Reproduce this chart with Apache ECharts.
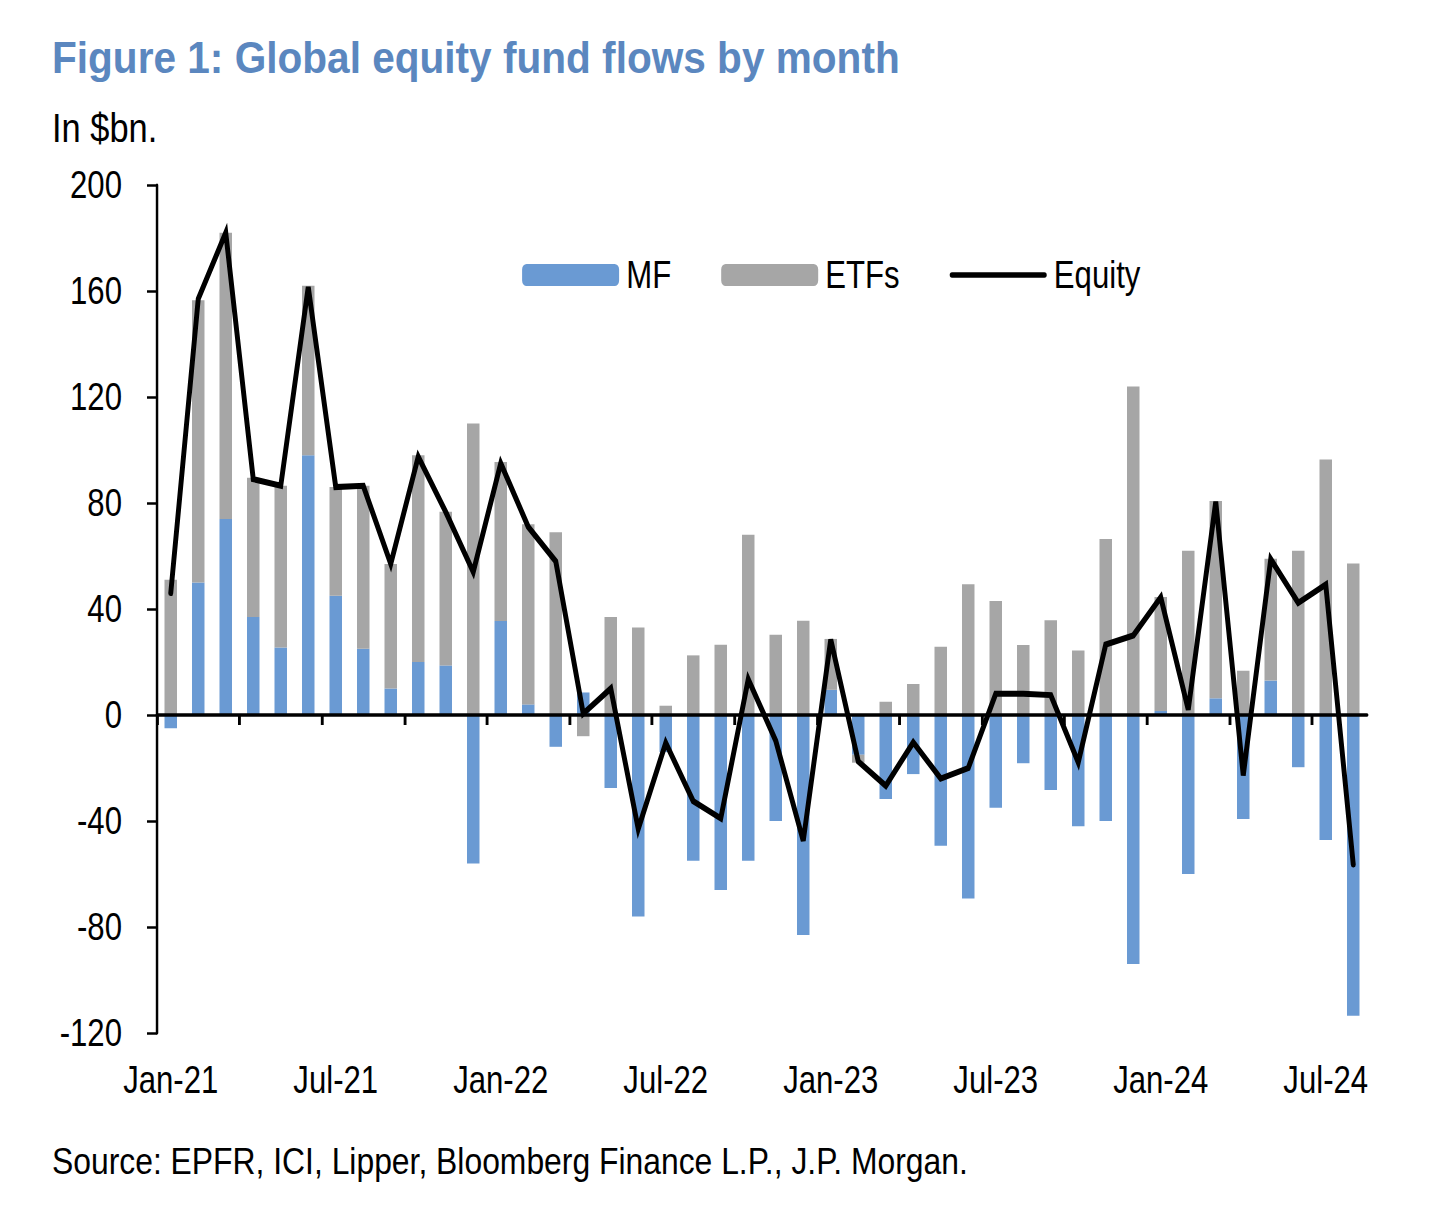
<!DOCTYPE html>
<html>
<head>
<meta charset="utf-8">
<script src="https://cdn.jsdelivr.net/npm/echarts@6/dist/echarts.min.js"></script>
<style>
html,body{margin:0;padding:0;background:#fff;overflow:hidden;width:1456px;height:1213px;}
#chart{height:1213px;transform-origin:0 0;}
</style>
</head>
<body>
<div id="chart"></div>
<script>
var months = ['Jan-21','Feb-21','Mar-21','Apr-21','May-21','Jun-21','Jul-21','Aug-21','Sep-21','Oct-21','Nov-21','Dec-21',
  'Jan-22','Feb-22','Mar-22','Apr-22','May-22','Jun-22','Jul-22','Aug-22','Sep-22','Oct-22','Nov-22','Dec-22',
  'Jan-23','Feb-23','Mar-23','Apr-23','May-23','Jun-23','Jul-23','Aug-23','Sep-23','Oct-23','Nov-23','Dec-23',
  'Jan-24','Feb-24','Mar-24','Apr-24','May-24','Jun-24','Jul-24','Aug-24'];

var mfFlows = [-5, 50, 74, 37, 25.5, 98, 45, 25, 10, 20, 18.7, -56,
  35.5, 4, -12, 8.5, -27.5, -76, -14, -55, -66, -55, -40, -83,
  9.5, -15, -31.7, -22.3, -49.3, -69.2, -35, -18.2, -28.3, -42, -40, -94,
  1.5, -60, 6.3, -39.2, 13, -19.7, -47.2, -113.5];

var etfFlows = [51, 106.5, 108, 52.5, 61, 64, 41, 61.5, 47, 78, 58, 110,
  60, 68, 69, -8, 37, 33, 3.5, 22.5, 26.5, 68, 30.3, 35.6,
  19.2, -3, 5, 11.7, 25.8, 49.3, 43, 26.4, 35.8, 24.3, 66.4, 124,
  43, 62, 74.5, 16.7, 46, 62, 96.4, 57.2];

var equityFlows = [46, 157, 182, 89, 86.5, 161.5, 86, 86.5, 57, 97.5, 76.6, 54,
  95, 71, 58, 0.5, 10, -43, -10.5, -32.5, -39, 13.5, -9.7, -47.5,
  28.5, -17.5, -26.7, -10.3, -24, -20, 8, 8, 7.5, -17.9, 26.6, 30,
  44.4, 2, 80.5, -22.8, 58.8, 42.3, 49.2, -56.4];

var yMin = -120, yMax = 200, yStep = 40;

// month boundaries (one more than months) for the zero-line axis with quarterly ticks
var boundaries = months.concat(['end']);

// Condensed look: render with Liberation Sans and squeeze horizontally (Arial Narrow ~ 0.82 x Arial)
var K = 0.82;
var W = 1456 / K;
var FONT = "'Liberation Sans', Arial, sans-serif";

var el = document.getElementById('chart');
el.style.width = W + 'px';
el.style.transform = 'scaleX(' + K + ')';

var chart = echarts.init(el, null, {renderer: 'svg', width: W, height: 1213});

chart.setOption({
  animation: false,
  backgroundColor: '#ffffff',
  textStyle: {fontFamily: FONT},
  graphic: [
    {type: 'text', x: 52 / K, y: 57, scaleX: 1.1, style: {text: 'Figure 1: Global equity fund flows by month', font: 'bold 45px ' + FONT, fill: '#5b87bf', verticalAlign: 'middle'}},
    {type: 'text', x: 52 / K, y: 128, scaleX: 1.05, style: {text: 'In $bn.', font: '40px ' + FONT, fill: '#000', verticalAlign: 'middle'}},
    {type: 'text', x: 52 / K, y: 1161, scaleX: 1.05, style: {text: 'Source: EPFR, ICI, Lipper, Bloomberg Finance L.P., J.P. Morgan.', font: '37px ' + FONT, fill: '#000', verticalAlign: 'middle'}}
  ],
  legend: {
    left: 518 / K,
    top: 251,
    itemWidth: 97 / K,
    itemHeight: 22,
    itemGap: 50 / K,
    symbolKeepAspect: true,
    textStyle: {fontSize: 38, color: '#000', fontFamily: FONT, padding: [0, 0, 0, 3 / K]},
    data: [
      {name: 'MF'},
      {name: 'ETFs'},
      {name: 'Equity', icon: 'path://M5,0 H210 A5,5 0 0 1 210,10 H5 A5,5 0 0 1 5,0 Z', itemStyle: {color: '#000'}}
    ]
  },
  grid: {left: 157 / K, right: W - 1367 / K, top: 185, bottom: 180, containLabel: false},
  xAxis: [
    {
      type: 'category',
      data: months,
      position: 'bottom',
      axisLine: {show: false, onZero: false},
      axisTick: {show: false},
      axisLabel: {show: true, interval: 5, fontSize: 38, color: '#000', margin: 28, fontFamily: FONT},
      splitLine: {show: false}
    },
    {
      type: 'category',
      data: boundaries,
      boundaryGap: false,
      position: 'bottom',
      z: 3,
      axisLine: {show: true, onZero: true, lineStyle: {color: '#000', width: 3.5}},
      axisTick: {show: true, interval: 2, length: 10, lineStyle: {color: '#000', width: 3.5}},
      axisLabel: {show: false},
      splitLine: {show: false}
    }
  ],
  yAxis: {
    type: 'value',
    min: yMin,
    max: yMax,
    interval: yStep,
    axisLine: {show: true, onZero: false, lineStyle: {color: '#000', width: 3}},
    axisTick: {show: true, length: 10 / K, lineStyle: {color: '#000', width: 2.5}},
    axisLabel: {fontSize: 38, color: '#000', margin: 35 / K, fontFamily: FONT},
    splitLine: {show: false}
  },
  series: [
    {
      name: 'MF',
      type: 'bar',
      stack: 'flows',
      xAxisIndex: 0,
      barWidth: 12.5 / K,
      itemStyle: {color: '#6a9ad3'},
      data: mfFlows
    },
    {
      name: 'ETFs',
      type: 'bar',
      stack: 'flows',
      xAxisIndex: 0,
      barWidth: 12.5 / K,
      itemStyle: {color: '#a6a6a6'},
      data: etfFlows
    },
    {
      name: 'Equity',
      type: 'line',
      xAxisIndex: 0,
      z: 5,
      symbol: 'none',
      showSymbol: false,
      lineStyle: {color: '#000', width: 6, join: 'miter', cap: 'round'},
      itemStyle: {color: '#000'},
      data: equityFlows
    }
  ]
});
</script>
</body>
</html>
